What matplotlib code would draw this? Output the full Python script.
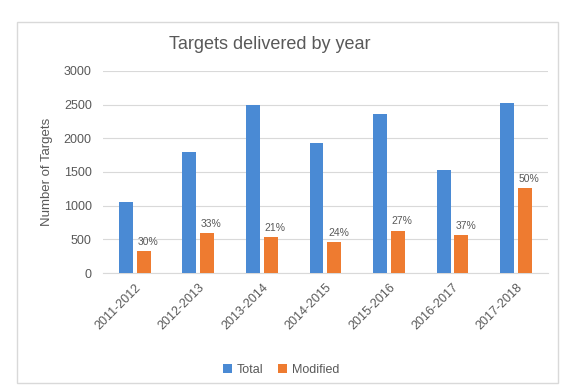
import numpy as np
import matplotlib.pyplot as plt
from matplotlib.patches import Rectangle

years = ['2011-2012', '2012-2013', '2013-2014', '2014-2015',
         '2015-2016', '2016-2017', '2017-2018']
total = [1060, 1800, 2500, 1930, 2360, 1530, 2530]
modified = [320, 595, 535, 460, 630, 565, 1265]

blue = '#4a8ad4'
orange = '#ee7b30'
grey = '#595959'

plt.rcParams['font.family'] = ['Liberation Sans', 'DejaVu Sans']

fig = plt.figure(figsize=(5.62, 3.9), dpi=100)
ax = fig.add_axes([0.183, 0.30, 0.792, 0.518])

# chart frame
fig.patches.append(Rectangle((0.03, 0.018), 0.962, 0.925, transform=fig.transFigure,
                             facecolor='none', edgecolor='#d9d9d9', lw=1))

x = np.arange(len(years))
w = 0.22
gap = 0.03
ax.bar(x - w / 2 - gap, total, w, color=blue, label='Total', zorder=3)
bars = ax.bar(x + w / 2 + gap, modified, w, color=orange, label='Modified', zorder=3)

for b, t, m in zip(bars, total, modified):
    ax.annotate(f'{round(m / t * 100)}%', (b.get_x() + b.get_width() / 2, m),
                xytext=(3, 3), textcoords='offset points', ha='center', va='bottom',
                fontsize=7.5, color=grey)

ax.set_xlim(-0.5, len(years) - 0.5)
ax.set_ylim(0, 3000)
ax.set_yticks(range(0, 3001, 500))
ax.set_xticks(x)
ax.set_xticklabels(years, rotation=45, ha='right', rotation_mode='anchor')
ax.tick_params(axis='both', labelsize=9, colors=grey, length=0)
ax.tick_params(axis='x', pad=6)
ax.tick_params(axis='y', pad=8)
ax.grid(axis='y', color='#d9d9d9', lw=0.8, zorder=0)
for s in ['top', 'right', 'left']:
    ax.spines[s].set_visible(False)
ax.spines['bottom'].set_color('#d9d9d9')

ax.set_ylabel('Number of Targets', fontsize=9.5, color=grey, labelpad=8)
fig.text(0.48, 0.885, 'Targets delivered by year', ha='center', va='center',
         fontsize=13, color=grey)

fig.legend(loc='center', bbox_to_anchor=(0.5, 0.052), ncol=2, frameon=False,
           fontsize=9, handlelength=0.7, handleheight=0.7, columnspacing=1.2,
           handletextpad=0.4, labelcolor=grey)

fig.savefig('out.png', dpi=100)
